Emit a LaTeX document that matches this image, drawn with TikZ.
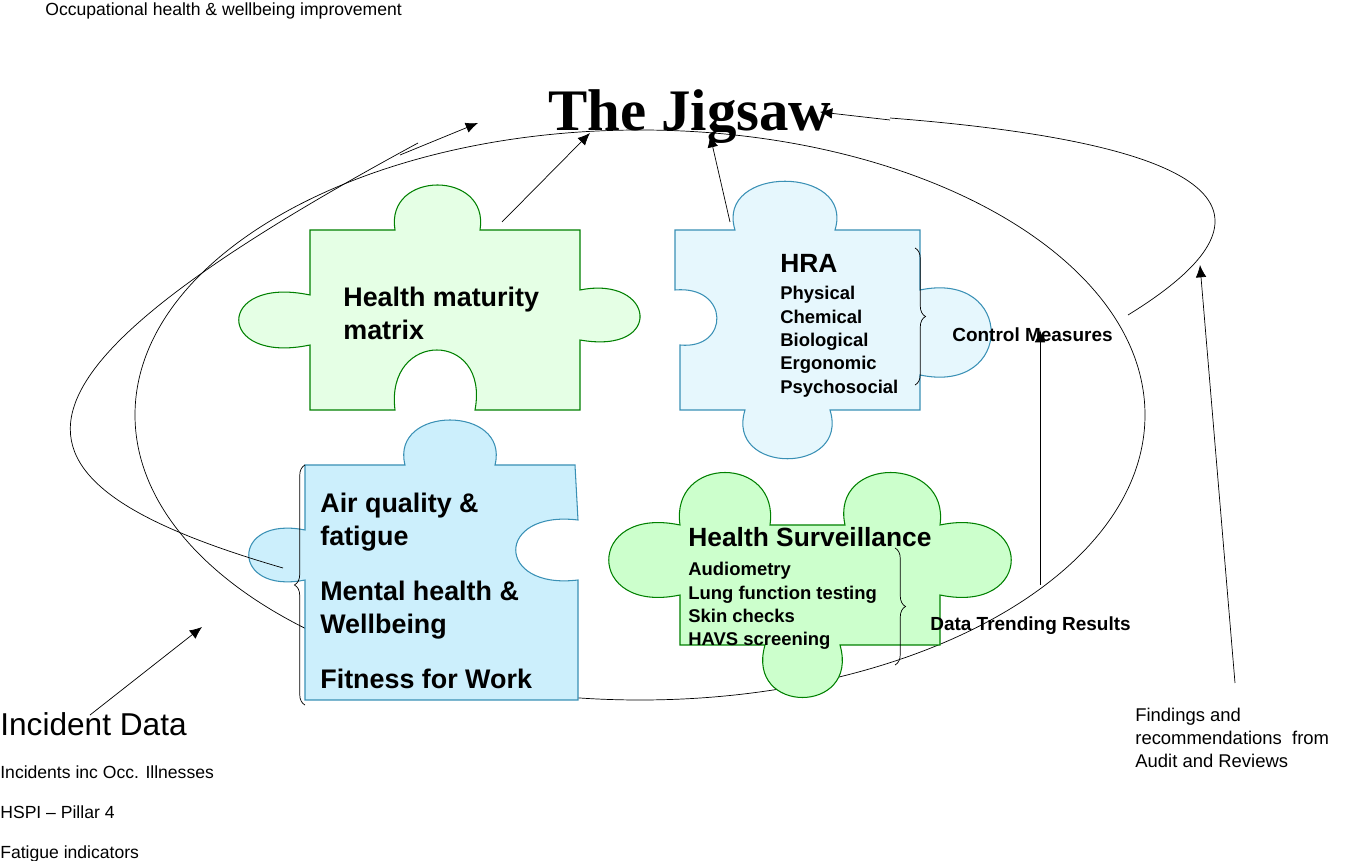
\documentclass[tikz,border=0pt]{standalone}
\usepackage{fontspec}
\setmainfont{Liberation Sans}
\newfontfamily\titlefont{Liberation Serif}
\usetikzlibrary{decorations.pathreplacing,arrows.meta}
\tikzstyle{piece} = [draw,line width=0.6pt]
\tikzstyle{post} = [-{Latex[length=7pt,width=6pt]},thin]
\tikzstyle{lbl} = [inner sep=0,anchor=north west,align=left]
\begin{document}
\begin{tikzpicture}[x=0.02cm,y=-0.02cm]
    \useasboundingbox (0,0) rectangle (1347,861);

    \node[lbl,font=\fontsize{10}{12}\selectfont] (occ) at (45,2) {Occupational health \& wellbeing improvement};
    \node[inner sep=0,font=\titlefont\bfseries\fontsize{33.5}{38}\selectfont] (title) at (690,117) {The Jigsaw};

    \draw[thin] (640,415) ellipse (505 and 285);

    % puzzle pieces
    \draw[piece,draw=green!50!black,fill=green!10] (310,230) -- (395,230) .. controls (385,170) and (490,170) .. (480,230) -- (580,230) -- (580,290) .. controls (655,275) and (665,355) .. (580,340) -- (580,410) -- (475,410) .. controls (490,330) and (385,330) .. (395,410) -- (310,410) -- (310,345) .. controls (215,365) and (215,275) .. (310,295) -- cycle;
    \draw[piece,draw=cyan!70!black,fill=cyan!10] (675,230) -- (735,230) .. controls (715,165) and (855,165) .. (835,230) -- (920,230) -- (920,290) .. controls (1015,270) and (1015,395) .. (920,375) -- (920,410) -- (830,410) .. controls (850,475) and (725,475) .. (745,410) -- (680,410) -- (680,345) .. controls (730,350) and (730,285) .. (675,290) -- cycle;
    \draw[piece,draw=cyan!70!black,fill=cyan!20] (305,465) -- (405,465) .. controls (390,405) and (510,405) .. (495,465) -- (575,465) -- (578,520) .. controls (495,510) and (495,590) .. (578,580) -- (578,700) -- (305,700) -- (305,580) .. controls (230,595) and (230,515) .. (305,530) -- cycle;
    \draw[piece,draw=green!50!black,fill=green!20] (680,525) .. controls (670,455) and (780,455) .. (770,525) -- (845,525) .. controls (830,455) and (950,455) .. (940,525) .. controls (1035,505) and (1035,615) .. (940,595) -- (940,645) -- (840,645) .. controls (860,715) and (745,715) .. (765,645) -- (680,645) -- (680,595) .. controls (585,615) and (585,505) .. (680,525) -- cycle;

    % piece texts
    \node[lbl,font=\bfseries\fontsize{15.3}{18.5}\selectfont] (hmm) at (343,287) {Health maturity\\ matrix};
    \node[lbl,font=\bfseries\fontsize{15}{17}\selectfont] (hra) at (780,254) {HRA};
    \node[lbl,font=\bfseries\fontsize{10.5}{13.3}\selectfont] (hazards) at (780,286) {Physical\\ Chemical\\ Biological\\ Ergonomic\\ Psychosocial};
    \node[lbl,font=\bfseries\fontsize{15.3}{18.5}\selectfont] (air) at (320,493) {Air quality \&\\ fatigue\\[0.85em] Mental health \&\\ Wellbeing\\[0.85em] Fitness for Work};
    \node[lbl,font=\bfseries\fontsize{15}{17}\selectfont] (hs) at (688,527) {Health Surveillance};
    \node[lbl,font=\bfseries\fontsize{10.5}{13.3}\selectfont] (tests) at (688,562) {Audiometry\\ Lung function testing\\ Skin checks\\ HAVS screening};
    \node[lbl,font=\bfseries\fontsize{10.8}{12}\selectfont] (ctrl) at (952,327) {Control Measures};
    \node[lbl,font=\bfseries\fontsize{10.8}{12}\selectfont] (trend) at (930,616) {Data Trending Results};
    \node[lbl,font=\fontsize{18}{20}\selectfont] (incid) at (0,712) {Incident Data};
    \node[lbl,font=\fontsize{10}{12}\selectfont] (inclist) at (0,765) {Incidents inc Occ. Illnesses\\[1.1em] HSPI -- Pillar 4\\[1.1em] Fatigue indicators};
    \node[lbl,font=\fontsize{10.5}{13}\selectfont] (audit) at (1135,708) {Findings and\\ recommendations\ \ from\\ Audit and Reviews};

    % braces
    \draw[decorate,decoration={brace,amplitude=6pt}] (915,248) -- (915,385);
    \draw[decorate,decoration={brace,amplitude=6pt}] (895,548) -- (895,665);
    \draw[decorate,decoration={brace,amplitude=6pt}] (305,705) -- (305,465);

    % connectors
    \coordinate (p1) at (502,222);
    \coordinate (p2) at (730,222);
    \coordinate (jl) at (590,133);
    \coordinate (jm) at (710,135);
    \coordinate (jr) at (820,112);
    \coordinate (sw) at (400,155);
    \coordinate (se) at (478,123);
    \coordinate (ai) at (283,568);
    \coordinate (ie) at (90,715);
    \coordinate (ii) at (202,627);
    \coordinate (au) at (1235,683);
    \coordinate (ar) at (1200,265);
    \coordinate (dt) at (1040,585);
    \coordinate (cm) at (1040,330);
    \coordinate (cr) at (1128,315);
    \draw[post] (p1) -- (jl);
    \draw[post] (p2) -- (jm);
    \draw[post] (sw) -- (se);
    \draw[thin] (ai) .. controls (-20,480) and (-20,380) .. (418,143);
    \draw[post] (ie) -- (ii);
    \draw[post] (au) -- (ar);
    \draw[post] (dt) -- (cm);
    \draw[thin] (cr) .. controls (1250,240) and (1300,150) .. (890,118);
    \draw[post] (890,120) -- (jr);
\end{tikzpicture}
\end{document}
